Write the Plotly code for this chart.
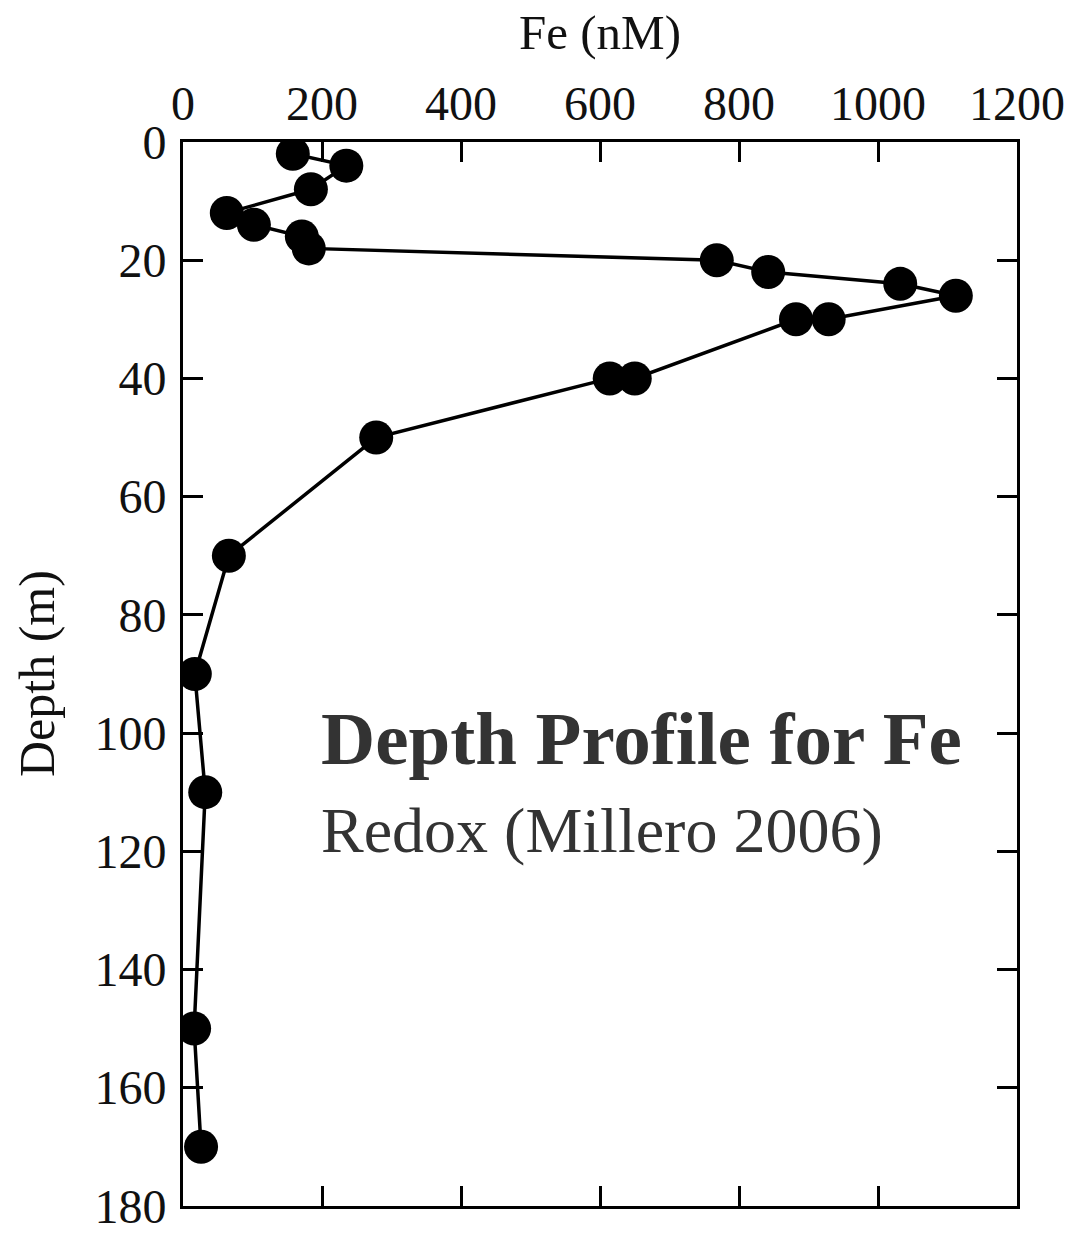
import plotly.graph_objects as go

fe_nM = [158, 235, 184, 63, 102, 171, 181, 768, 842, 1032, 1112, 929, 882, 650, 614, 278, 66, 17, 32, 16, 26]
depth_m = [2, 4, 8, 12, 14, 16, 18, 20, 22, 24, 26, 30, 30, 40, 40, 50, 70, 90, 110, 150, 170]
x_ticks = [0, 200, 400, 600, 800, 1000, 1200]
y_ticks = [0, 20, 40, 60, 80, 100, 120, 140, 160, 180]

FONT = "Liberation Serif"

fig = go.Figure()
fig.add_trace(go.Scatter(
    x=fe_nM, y=depth_m, mode="lines+markers",
    line=dict(color="black", width=3.5),
    marker=dict(color="black", size=34),
    showlegend=False,
))

fig.update_layout(
    width=1070, height=1233,
    margin=dict(l=183, r=53, t=142, b=27),
    paper_bgcolor="white", plot_bgcolor="white",
    font=dict(family=FONT, size=48, color="#111111"),
    xaxis=dict(
        range=[0, 1200], side="top", tickvals=x_ticks,
        ticks="inside", ticklen=20, tickwidth=2.5, tickcolor="black",
        showline=True, linewidth=3, linecolor="black", mirror="ticks",
        showgrid=False, zeroline=False, ticklabelstandoff=0,
        automargin=False,
    ),
    yaxis=dict(
        range=[180.02, 0], tickvals=y_ticks,
        ticks="inside", ticklen=20, tickwidth=2.5, tickcolor="black",
        showline=True, linewidth=3, linecolor="black", mirror="ticks",
        showgrid=False, zeroline=False, ticklabelstandoff=4,
        ticklabeloverflow="allow", automargin=False,
    ),
    annotations=[
        dict(text="Fe (nM)", x=0.5, y=1, xref="paper", yref="paper",
             xanchor="center", yanchor="bottom", yshift=80, showarrow=False,
             font=dict(family=FONT, size=49, color="#111111")),
        dict(text="Depth (m)", x=0, y=0.5, xref="paper", yref="paper",
             xanchor="center", yanchor="middle", xshift=-146, textangle=-90,
             showarrow=False, font=dict(family=FONT, size=50, color="#111111")),
        dict(text="<b>Depth Profile for Fe</b>", x=196, y=101, xref="x", yref="y",
             xanchor="left", yanchor="middle", showarrow=False,
             font=dict(family=FONT, size=75, color="#333333")),
        dict(text="Redox (Millero 2006)", x=196, y=116.5, xref="x", yref="y",
             xanchor="left", yanchor="middle", showarrow=False,
             font=dict(family=FONT, size=64, color="#333333")),
    ],
)

fig.write_html(
    "out.html",
    config={"displayModeBar": False},
    post_script="document.body.style.margin='0';document.body.style.overflow='hidden';",
)
